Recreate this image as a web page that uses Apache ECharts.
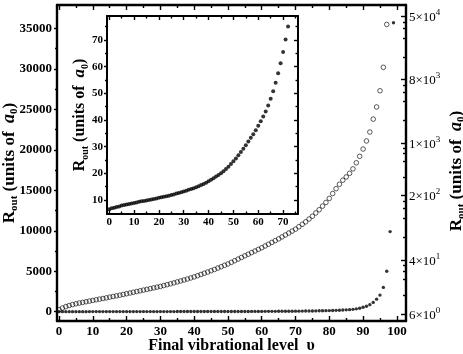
<!DOCTYPE html>
<html><head><meta charset="utf-8">
<script src="https://cdn.jsdelivr.net/npm/echarts@6/dist/echarts.min.js"></script>
<style>html,body{margin:0;padding:0;background:#fff}#c{width:463px;height:354px}</style>
</head><body><div id="c"></div>
<script>
// ---- data ----
// filled dots: R_out (a0) vs final vibrational level v = 0..99 (left, linear axis; inset shows v = 0..72)
const filledR = [6.5,6.9,7.1,7.4,7.6,7.9,8.1,8.3,8.5,8.7,
 8.9,9.1,9.3,9.5,9.6,9.8,10.0,10.2,10.4,10.6,
 10.8,11.0,11.2,11.4,11.6,11.9,12.1,12.4,12.6,12.9,
 13.2,13.5,13.8,14.1,14.4,14.8,15.2,15.6,16.0,16.5,
 17.0,17.6,18.2,18.8,19.4,20.0,20.8,21.6,22.5,23.5,
 24.5,25.6,26.8,28.0,29.2,30.5,31.9,33.3,34.7,36.2,
 37.8,39.5,41.3,43.2,45.4,48.0,50.8,54.0,57.5,61.3,
 65.5,70.2,75.1,80.5,86.5,93,100,108,117,127,
 138,151,166,183,203,227,255,290,350,430,
 540,680,870,1150,1550,2050,3000,5000,9900,35700];
// open circles, v = 0..97, read against the left axis
const openR = [250,450,620,760,880,980,1070,1150,1230,1310,
 1390,1470,1550,1630,1710,1800,1880,1960,2040,2130,
 2220,2310,2400,2490,2580,2670,2760,2850,2940,3030,
 3120,3230,3340,3450,3560,3680,3800,3920,4040,4170,
 4300,4450,4600,4750,4900,5060,5220,5390,5560,5730,
 5900,6100,6300,6500,6700,6900,7100,7300,7500,7700,
 7900,8120,8340,8560,8780,9000,9240,9480,9720,9960,
 10200,10500,10800,11100,11450,11800,12200,12600,13050,13500,
 14000,14600,15200,15750,16250,16650,17100,17650,18400,19200,
 20100,21100,22200,23800,25300,27300,30200,35500];
const insetMaxLevel = 72;
// tick labels
const xMainTicks = [0,10,20,30,40,50,60,70,80,90,100];
const yMainTicks = [0,5000,10000,15000,20000,25000,30000,35000];
const rightMant = [6,4,2,1,8,5];
const rightExp = [0,1,2,3,3,4];
const xInsetTicks = [0,10,20,30,40,50,60,70];
const yInsetTicks = [10,20,30,40,50,60,70];

// ---- layout / style ----
const rightTickPos = [0,0.906,1.997,2.869,3.943,5];
const F = '"Liberation Serif","Times New Roman",serif';
const K = '#000';
const filledPts = filledR.map((r,i)=>[i,r]);
const openPts = openR.map((r,i)=>[i,r]);
const insetPts = filledR.slice(0, insetMaxLevel+1).map((r,i)=>[i,r]);
const mids = a => a.slice(0,-1).map((v,i)=>(v+a[i+1])/2);
const rightMinor = [];
for (let i=0;i<rightTickPos.length-1;i++){
  const lo=rightTickPos[i], hi=rightTickPos[i+1];
  [0.1,0.2,0.35,0.65].forEach(f=>rightMinor.push(hi-f*(hi-lo)));
}

function titleStyle(size){
  const lh=size+4;
  return {rich:{
    r:{fontFamily:F,fontWeight:'bold',fontSize:size,lineHeight:lh,verticalAlign:'middle',color:K},
    s:{fontFamily:F,fontWeight:'bold',fontSize:Math.round(size*0.62),lineHeight:lh,verticalAlign:'bottom',color:K},
    a:{fontFamily:F,fontWeight:'bold',fontStyle:'italic',fontSize:size+1,lineHeight:lh,verticalAlign:'middle',color:K}
  }};
}
const RNAME='{r|R}{s|out}{r| (units of  }{a|a}{s|0}{r|)}';
const plain = v => String(v);

function axis(o){
  const a = {type:'value', gridIndex:o.grid, position:o.pos, min:o.min, max:o.max,
    splitLine:{show:false},
    axisLine:{show:!!o.line, onZero:false, lineStyle:{color:K,width:o.lw||2.4}},
    axisTick:{show:true, inside:o.inside, length:o.len, customValues:o.ticks, lineStyle:{color:K,width:1.4}},
    axisLabel:{show:false}};
  if (o.labels) a.axisLabel = Object.assign({show:true, customValues:o.ticks, color:K, fontFamily:F, fontWeight:'bold', formatter:plain}, o.labels);
  if (o.name){ a.name=o.name; a.nameLocation='middle'; a.nameGap=o.nameGap; a.nameTextStyle=o.nameStyle; a.nameMoveOverlap=false; }
  return a;
}
const XM=[-0.6,102.7], YM=[-1150,37900], XI=[-0.9,76], YI=[4.75,79], YR=[-0.117,5.185];

const option = {
  animation:false,
  backgroundColor:'#fff',
  grid:[
    {left:57,right:57,top:5,bottom:33,outerBoundsMode:'none'},
    {left:107,top:16,width:191,height:198,outerBoundsMode:'none',show:true,backgroundColor:'#fff',borderWidth:0}
  ],
  xAxis:[
    axis({grid:0,pos:'bottom',min:XM[0],max:XM[1],line:1,ticks:xMainTicks,inside:true,len:5,
      labels:{fontSize:13,margin:4},
      name:'Final vibrational level  υ',nameGap:17,
      nameStyle:{fontFamily:F,fontWeight:'bold',fontSize:16,color:K}}),
    axis({grid:0,pos:'bottom',min:XM[0],max:XM[1],ticks:mids(xMainTicks),inside:true,len:3}),
    axis({grid:0,pos:'top',min:XM[0],max:XM[1],line:1,ticks:xMainTicks,inside:true,len:5}),
    axis({grid:0,pos:'top',min:XM[0],max:XM[1],ticks:mids(xMainTicks),inside:true,len:3}),
    axis({grid:1,pos:'bottom',min:XI[0],max:XI[1],line:1,lw:2,ticks:xInsetTicks,inside:true,len:4,
      labels:{fontSize:11,margin:3}}),
    axis({grid:1,pos:'bottom',min:XI[0],max:XI[1],ticks:mids(xInsetTicks.concat([80])),inside:true,len:2.5}),
    axis({grid:1,pos:'top',min:XI[0],max:XI[1],line:1,lw:2,ticks:xInsetTicks,inside:true,len:4}),
    axis({grid:1,pos:'top',min:XI[0],max:XI[1],ticks:mids(xInsetTicks.concat([80])),inside:true,len:2.5})
  ],
  yAxis:[
    axis({grid:0,pos:'left',min:YM[0],max:YM[1],line:1,ticks:yMainTicks,inside:false,len:3,
      labels:{fontSize:13,margin:5},
      name:RNAME,nameGap:37,nameStyle:titleStyle(17)}),
    axis({grid:0,pos:'left',min:YM[0],max:YM[1],ticks:mids(yMainTicks),inside:false,len:2}),
    axis({grid:0,pos:'right',min:YR[0],max:YR[1],line:1,ticks:rightTickPos,inside:true,len:5,
      labels:{fontSize:12,fontWeight:'normal',margin:3,
        formatter:(v)=>{let i=0,b=1e9;rightTickPos.forEach((p,j)=>{const d=Math.abs(p-v);if(d<b){b=d;i=j;}});
          return '{m|'+rightMant[i]+'×10}{e|'+rightExp[i]+'}';},
        rich:{m:{fontFamily:F,fontSize:13,color:K,lineHeight:16,verticalAlign:'bottom'},
              e:{fontFamily:F,fontSize:9,color:K,lineHeight:16,verticalAlign:'top'}}},
      name:RNAME,nameGap:40,nameStyle:Object.assign(titleStyle(17),{padding:[0,16,0,0]})}),
    axis({grid:0,pos:'right',min:YR[0],max:YR[1],ticks:rightMinor,inside:true,len:3}),
    axis({grid:1,pos:'left',min:YI[0],max:YI[1],line:1,lw:2,ticks:yInsetTicks,inside:false,len:3,
      labels:{fontSize:11,margin:4},
      name:RNAME,nameGap:17,nameStyle:titleStyle(16)}),
    axis({grid:1,pos:'left',min:YI[0],max:YI[1],ticks:mids(yInsetTicks.concat([80])),inside:false,len:2}),
    axis({grid:1,pos:'right',min:YI[0],max:YI[1],line:1,lw:2,ticks:yInsetTicks,inside:true,len:4}),
    axis({grid:1,pos:'right',min:YI[0],max:YI[1],ticks:mids(yInsetTicks.concat([80])),inside:true,len:2.5})
  ],
  series:[
    {type:'scatter',xAxisIndex:0,yAxisIndex:0,data:openPts,symbol:'circle',symbolSize:4.6,
      itemStyle:{color:'transparent',borderColor:K,borderWidth:0.8},silent:true},
    {type:'scatter',xAxisIndex:0,yAxisIndex:0,data:filledPts,symbolSize:3.4,itemStyle:{color:K},silent:true},
    {type:'scatter',xAxisIndex:4,yAxisIndex:4,data:insetPts,symbolSize:4,itemStyle:{color:K},silent:true}
  ]
};
const chart = echarts.init(document.getElementById('c'),null,{renderer:'canvas'});
chart.setOption(option);
</script></body></html>
